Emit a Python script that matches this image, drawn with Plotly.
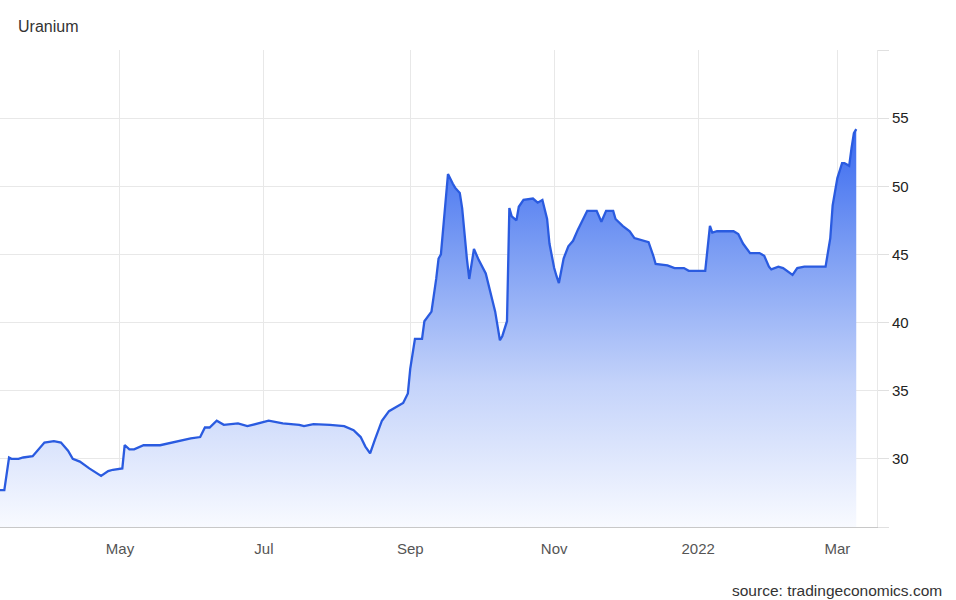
import plotly.graph_objects as go

dates = [
    "2021-03-11", "2021-03-13", "2021-03-15", "2021-03-16", "2021-03-19", "2021-03-21",
    "2021-03-25", "2021-03-28", "2021-03-30", "2021-04-03", "2021-04-06", "2021-04-09",
    "2021-04-11", "2021-04-14", "2021-04-18", "2021-04-23", "2021-04-26", "2021-04-28",
    "2021-05-02", "2021-05-03", "2021-05-05", "2021-05-07", "2021-05-11", "2021-05-18",
    "2021-05-23", "2021-05-31", "2021-06-04", "2021-06-06", "2021-06-08", "2021-06-11",
    "2021-06-14", "2021-06-20", "2021-06-24", "2021-06-28", "2021-07-03", "2021-07-09",
    "2021-07-16", "2021-07-18", "2021-07-22", "2021-07-29", "2021-08-04", "2021-08-08",
    "2021-08-11", "2021-08-13", "2021-08-15", "2021-08-17", "2021-08-20", "2021-08-23",
    "2021-08-27", "2021-08-29", "2021-08-31", "2021-09-01", "2021-09-03", "2021-09-06",
    "2021-09-07", "2021-09-10", "2021-09-12", "2021-09-13", "2021-09-14", "2021-09-16",
    "2021-09-17", "2021-09-19", "2021-09-20", "2021-09-22", "2021-09-23", "2021-09-25",
    "2021-09-26", "2021-09-28", "2021-09-30", "2021-10-03", "2021-10-05", "2021-10-07",
    "2021-10-09", "2021-10-10", "2021-10-12", "2021-10-13", "2021-10-14", "2021-10-16",
    "2021-10-17", "2021-10-19", "2021-10-23", "2021-10-25", "2021-10-27", "2021-10-29",
    "2021-10-30", "2021-11-01", "2021-11-02", "2021-11-03", "2021-11-05", "2021-11-07",
    "2021-11-09", "2021-11-11", "2021-11-15", "2021-11-19", "2021-11-21", "2021-11-23",
    "2021-11-26", "2021-11-27", "2021-11-30", "2021-12-03", "2021-12-05", "2021-12-09",
    "2021-12-11", "2021-12-13", "2021-12-14", "2021-12-19", "2021-12-22", "2021-12-26",
    "2021-12-28", "2022-01-04", "2022-01-06", "2022-01-07", "2022-01-09", "2022-01-16",
    "2022-01-18", "2022-01-20", "2022-01-23", "2022-01-27", "2022-01-29", "2022-01-31",
    "2022-02-01", "2022-02-04", "2022-02-06", "2022-02-10", "2022-02-12", "2022-02-15",
    "2022-02-24", "2022-02-26", "2022-02-27", "2022-03-01", "2022-03-03", "2022-03-04",
    "2022-03-06", "2022-03-07", "2022-03-08", "2022-03-09",
]

prices = [
    27.7, 27.7, 30.1, 30.0, 30.0, 30.1,
    30.2, 30.8, 31.2, 31.3, 31.2, 30.6,
    30.0, 29.8, 29.3, 28.75, 29.1, 29.2,
    29.3, 31.0, 30.7, 30.7, 31.0, 31.0,
    31.2, 31.5, 31.6, 32.3, 32.3, 32.8,
    32.5, 32.6, 32.4, 32.6, 32.8, 32.6,
    32.5, 32.4, 32.55, 32.5, 32.4, 32.1,
    31.6, 30.9, 30.4, 31.4, 32.8, 33.5,
    33.9, 34.1, 34.8, 36.6, 38.8, 38.8,
    40.1, 40.8, 43.2, 44.7, 45.0, 48.9,
    50.9, 50.2, 49.9, 49.5, 48.4, 44.7,
    43.2, 45.4, 44.6, 43.6, 42.3, 40.8,
    38.7, 39.0, 40.1, 48.4, 47.8, 47.5,
    48.5, 49.0, 49.1, 48.8, 49.0, 47.6,
    45.8, 44.0, 43.4, 42.9, 44.7, 45.6,
    46.0, 46.8, 48.2, 48.2, 47.4, 48.2,
    48.2, 47.6, 47.1, 46.7, 46.2, 46.0,
    45.9, 44.9, 44.3, 44.2, 44.0, 44.0,
    43.8, 43.8, 47.1, 46.6, 46.7, 46.7,
    46.5, 45.8, 45.1, 45.1, 44.9, 44.1,
    43.9, 44.1, 44.0, 43.5, 44.0, 44.1,
    44.1, 46.2, 48.6, 50.6, 51.7, 51.7,
    51.5, 52.8, 53.9, 54.2,
]

x_tick_vals = ["2021-05-01", "2021-07-01", "2021-09-01", "2021-11-01", "2022-01-01", "2022-03-01"]
x_tick_text = ["May", "Jul", "Sep", "Nov", "2022", "Mar"]
y_tick_vals = [25, 30, 35, 40, 45, 50, 55, 60]
y_tick_text = ["", "30", "35", "40", "45", "50", "55", ""]

fig = go.Figure()
fig.add_trace(go.Scatter(
    x=dates, y=prices, mode="lines",
    line=dict(color="#2a5be0", width=2.3),
    fill="tozeroy",
    fillgradient=dict(type="vertical", start=25, stop=55,
                      colorscale=[[0, "rgb(248,250,255)"], [0.35, "rgb(196,211,250)"],
                                  [0.7, "rgb(118,153,243)"], [1, "rgb(50,100,240)"]]),
    hoverinfo="skip",
))

W, H = 956, 600
ML, MR, MT, MB = 0, 79, 50, 73

fig.update_layout(
    width=W, height=H,
    margin=dict(l=ML, r=MR, t=MT, b=MB, pad=0),
    paper_bgcolor="white", plot_bgcolor="white",
    showlegend=False,
    font=dict(family="Arial, Liberation Sans, sans-serif", color="#333"),
    xaxis=dict(
        range=["2021-03-11 04:00", "2022-03-17 19:00"],
        tickvals=x_tick_vals, ticktext=x_tick_text,
        showgrid=True, gridcolor="#e8e8e8", gridwidth=1,
        showline=True, linecolor="#c8c8c8", linewidth=1,
        ticks="", ticklabelstandoff=8,
        tickfont=dict(size=15, color="#555"),
        zeroline=False,
    ),
    yaxis=dict(
        side="right", range=[25, 60],
        tickvals=y_tick_vals, ticktext=y_tick_text,
        showgrid=True, gridcolor="#e8e8e8", gridwidth=1,
        showline=True, linecolor="#e8e8e8", linewidth=1,
        ticks="outside", ticklen=11, tickcolor="#e0e0e0",
        tickfont=dict(size=15, color="#222"),
        zeroline=False,
    ),
)

plot_w = W - ML - MR
plot_h = H - MT - MB


def px_to_paper(px, py):
    return (px - ML) / plot_w, (H - MB - py) / plot_h


ax, ay = px_to_paper(16, 26)
sx, sy = px_to_paper(944, 590)
fig.add_annotation(text="Uranium", x=ax, y=ay, xref="paper", yref="paper",
                   showarrow=False, font=dict(size=16, color="#333"),
                   xanchor="left", yanchor="middle")
fig.add_annotation(text="source: tradingeconomics.com", x=sx, y=sy, xref="paper", yref="paper",
                   showarrow=False, font=dict(size=15.5, color="#333"),
                   xanchor="right", yanchor="middle")

fig.write_html("out.html", config={"displayModeBar": False},
               post_script="document.body.style.margin='0';document.body.style.overflow='hidden';")
